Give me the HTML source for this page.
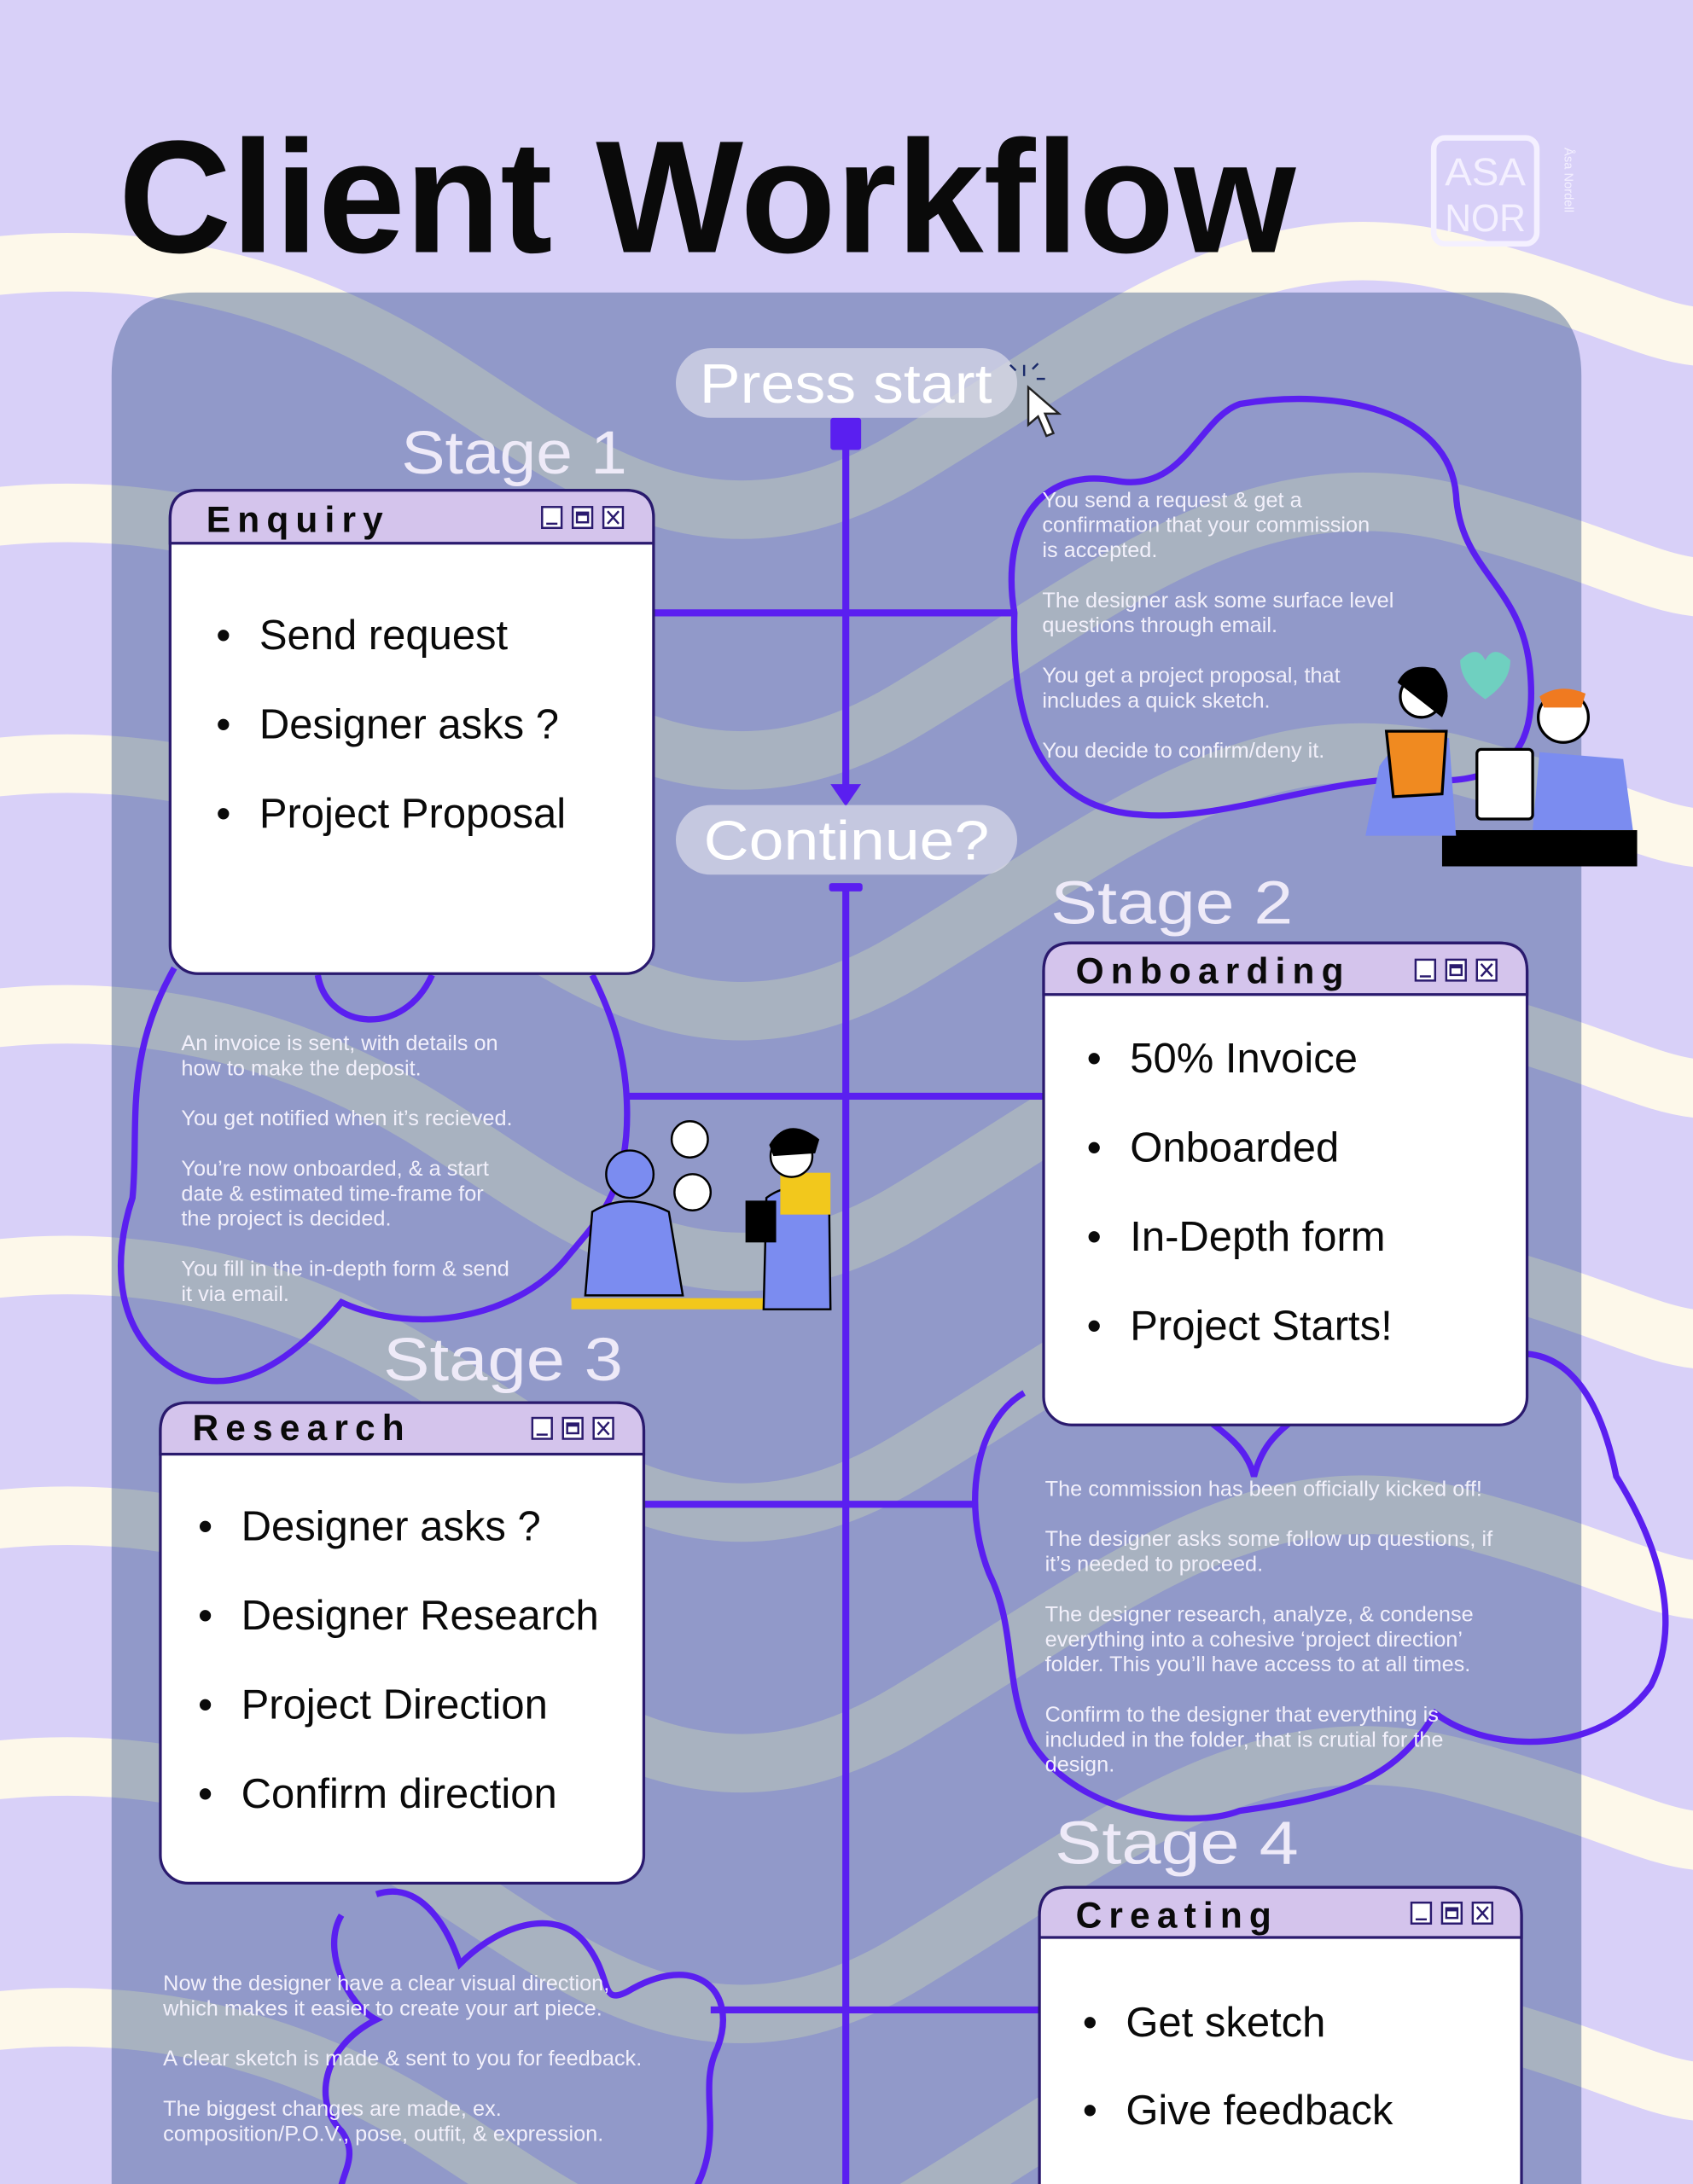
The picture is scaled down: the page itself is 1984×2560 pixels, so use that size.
<!DOCTYPE html>
<html><head><meta charset="utf-8"><style>
html,body{margin:0;padding:0;background:#d8d0f8;width:1984px;height:2560px;overflow:hidden;}
svg{display:block;}
text{font-family:"Liberation Sans",sans-serif;}
</style></head><body>
<svg width="1984" height="2560" viewBox="0 0 1215 1568" xmlns="http://www.w3.org/2000/svg">
<rect width="1215" height="1568" fill="#d8d0f8"/>
<g fill="none" stroke="#fdf8ea" stroke-width="42" stroke-linecap="round">
<path d="M-60,200 C80,170 200,200 300,260 S500,420 650,330 S900,150 1050,190 S1200,260 1290,230"/>
<path d="M-60,380 C80,350 200,380 300,440 S500,600 650,510 S900,330 1050,370 S1200,440 1290,410"/>
<path d="M-60,560 C80,530 200,560 300,620 S500,780 650,690 S900,510 1050,550 S1200,620 1290,590"/>
<path d="M-60,740 C80,710 200,740 300,800 S500,960 650,870 S900,690 1050,730 S1200,800 1290,770"/>
<path d="M-60,920 C80,890 200,920 300,980 S500,1140 650,1050 S900,870 1050,910 S1200,980 1290,950"/>
<path d="M-60,1100 C80,1070 200,1100 300,1160 S500,1320 650,1230 S900,1050 1050,1090 S1200,1160 1290,1130"/>
<path d="M-60,1280 C80,1250 200,1280 300,1340 S500,1500 650,1410 S900,1230 1050,1270 S1200,1340 1290,1310"/>
<path d="M-60,1460 C80,1430 200,1460 300,1520 S500,1680 650,1590 S900,1410 1050,1450 S1200,1520 1290,1490"/>
</g>
<path d="M80,1600 L80,270 Q80,210 140,210 L1075,210 Q1135,210 1135,270 L1135,1600 Z" fill="rgb(29,63,124)" fill-opacity="0.38"/>
<text x="85" y="181" font-size="115" font-weight="bold" fill="#0a0a0a" textLength="845" lengthAdjust="spacingAndGlyphs">Client Workflow</text>
<rect x="1029" y="99" width="74" height="76" rx="8" fill="none" stroke="#f4f0ff" stroke-width="4"/>
<text x="1066" y="133" font-size="28" fill="#f4f0ff" text-anchor="middle" textLength="58" lengthAdjust="spacingAndGlyphs">ASA</text>
<text x="1066" y="166" font-size="28" fill="#f4f0ff" text-anchor="middle" textLength="58" lengthAdjust="spacingAndGlyphs">NOR</text>
<text x="0" y="0" font-size="9" fill="#f4f0ff" transform="translate(1123,106) rotate(90)">Åsa Nordell</text>

<g stroke="#5a1ff0" stroke-width="5" fill="none">
<line x1="607" y1="312" x2="607" y2="566"/>
<line x1="607" y1="637" x2="607" y2="1570"/>
<line x1="469" y1="440" x2="730" y2="440"/>
<line x1="448" y1="787" x2="749" y2="787"/>
<line x1="462" y1="1080" x2="700" y2="1080"/>
<line x1="510" y1="1443" x2="746" y2="1443"/>
</g>
<rect x="596" y="300" width="22" height="23" rx="2" fill="#5a1ff0"/>
<path d="M596,563 L618,563 L607,579 Z" fill="#5a1ff0"/>
<rect x="595" y="634" width="24" height="6" rx="2" fill="#5a1ff0"/>

<g stroke="#5a1ff0" stroke-width="4.5" fill="none">
<path d="M728,440 C718,380 745,335 800,345 C850,355 860,300 890,290 C960,278 1040,295 1045,355 C1048,410 1092,420 1098,480 C1103,530 1090,565 1020,560 C960,555 880,590 820,585 C760,582 725,540 728,440 Z"/>
<path d="M125,695 C88,760 100,810 95,860 C80,905 82,960 128,985 C175,1008 220,965 245,935 C300,960 370,945 405,905 C425,880 450,860 450,800 C450,760 440,730 425,700 M228,700 C235,740 290,745 310,700"/>
<path d="M735,1000 C700,1020 690,1080 710,1130 C730,1170 720,1210 740,1250 C770,1300 850,1315 890,1300 C960,1290 1000,1280 1030,1230 C1070,1260 1150,1260 1185,1210 C1210,1160 1185,1100 1160,1060 C1150,1010 1130,975 1096,972 M870,1022 C880,1030 895,1040 900,1060 C905,1040 915,1030 925,1022"/>
<path d="M245,1375 C230,1400 250,1440 270,1450 C230,1470 225,1510 245,1530 C260,1550 240,1565 245,1580 M270,1360 C300,1350 320,1380 330,1410 C360,1380 400,1370 420,1395 C440,1420 430,1440 450,1430 C500,1400 530,1430 515,1470 C500,1500 520,1530 500,1570"/>
</g>

<rect x="485" y="250" width="245" height="50" rx="25" fill="#dcdcea" fill-opacity="0.7"/>
<text x="502" y="289" font-size="40" fill="#ffffff" textLength="210" lengthAdjust="spacingAndGlyphs">Press start</text>
<rect x="485" y="578" width="245" height="50" rx="25" fill="#dcdcea" fill-opacity="0.7"/>
<text x="505" y="617" font-size="40" fill="#ffffff" textLength="205" lengthAdjust="spacingAndGlyphs">Continue?</text>
<path d="M738,278 L738,305 L745,299 L751,313 L756,311 L750,297 L760,297 Z" fill="#fff" stroke="#222" stroke-width="1.5"/>
<g stroke="#1a2a6a" stroke-width="1.5"><line x1="735" y1="262" x2="735" y2="270"/><line x1="741" y1="265" x2="745" y2="261"/><line x1="744" y1="272" x2="750" y2="272"/><line x1="729" y1="266" x2="725" y2="262"/></g>

<g fill="#eeeaf8" font-size="44">
<text x="288" y="340" textLength="162" lengthAdjust="spacingAndGlyphs">Stage 1</text>
<text x="754" y="663" textLength="174" lengthAdjust="spacingAndGlyphs">Stage 2</text>
<text x="275" y="991" textLength="172" lengthAdjust="spacingAndGlyphs">Stage 3</text>
<text x="757" y="1338" textLength="175" lengthAdjust="spacingAndGlyphs">Stage 4</text>
</g>

<defs>
<g id="icons" fill="#fff" stroke="#2a1a6e" stroke-width="1.5">
<rect x="0" y="0" width="14" height="15"/><line x1="3" y1="12" x2="11" y2="12"/>
<rect x="22" y="0" width="14" height="15"/><rect x="25" y="4" width="8" height="7" fill="none"/><line x1="25" y1="5" x2="33" y2="5" stroke-width="2.5"/>
<rect x="44" y="0" width="14" height="15"/><path d="M47,3 L55,12 M55,3 L47,12" fill="none"/>
</g>
</defs>
<g stroke="#2a1a6e" stroke-width="2">
<rect x="122" y="352" width="347" height="347" rx="20" fill="#fff"/>
<path d="M122,390 L122,372 Q122,352 142,352 L449,352 Q469,352 469,372 L469,390 Z" fill="#d4c4ec"/>
<rect x="749" y="677" width="347" height="346" rx="20" fill="#fff"/>
<path d="M749,714 L749,697 Q749,677 769,677 L1076,677 Q1096,677 1096,697 L1096,714 Z" fill="#d4c4ec"/>
<rect x="115" y="1007" width="347" height="345" rx="20" fill="#fff"/>
<path d="M115,1044 L115,1027 Q115,1007 135,1007 L442,1007 Q462,1007 462,1027 L462,1044 Z" fill="#d4c4ec"/>
<rect x="746" y="1355" width="346" height="300" rx="20" fill="#fff"/>
<path d="M746,1391 L746,1375 Q746,1355 766,1355 L1072,1355 Q1092,1355 1092,1375 L1092,1391 Z" fill="#d4c4ec"/>
</g>
<use href="#icons" x="389" y="364"/>
<use href="#icons" x="1016" y="689"/>
<use href="#icons" x="382" y="1018"/>
<use href="#icons" x="1013" y="1366"/>
<g font-weight="bold" font-size="26" fill="#0a0a0a" letter-spacing="5">
<text x="148" y="382">Enquiry</text>
<text x="772" y="706">Onboarding</text>
<text x="138" y="1034">Research</text>
<text x="772" y="1384">Creating</text>
</g>
<g font-size="30" fill="#0a0a0a">
<text x="155" y="466">•</text><text x="186" y="466">Send request</text>
<text x="155" y="530">•</text><text x="186" y="530">Designer asks ?</text>
<text x="155" y="594">•</text><text x="186" y="594">Project Proposal</text>
<text x="780" y="770">•</text><text x="811" y="770">50% Invoice</text>
<text x="780" y="834">•</text><text x="811" y="834">Onboarded</text>
<text x="780" y="898">•</text><text x="811" y="898">In-Depth form</text>
<text x="780" y="962">•</text><text x="811" y="962">Project Starts!</text>
<text x="142" y="1106">•</text><text x="173" y="1106">Designer asks ?</text>
<text x="142" y="1170">•</text><text x="173" y="1170">Designer Research</text>
<text x="142" y="1234">•</text><text x="173" y="1234">Project Direction</text>
<text x="142" y="1298">•</text><text x="173" y="1298">Confirm direction</text>
<text x="777" y="1462">•</text><text x="808" y="1462">Get sketch</text>
<text x="777" y="1525">•</text><text x="808" y="1525">Give feedback</text>
</g>

<g>
<rect x="1035" y="596" width="140" height="26" fill="#000"/>
<path d="M1105,540 L1165,545 L1172,596 L1100,596 Z" fill="#7b8cf0"/>
<circle cx="1122" cy="515" r="18" fill="#fff" stroke="#000" stroke-width="2"/>
<path d="M1105,500 Q1120,490 1138,498 L1135,508 L1108,508 Z" fill="#f07a20"/>
<rect x="1060" y="538" width="40" height="50" rx="3" fill="#fff" stroke="#000" stroke-width="2"/>
<path d="M980,600 L990,550 Q1010,520 1040,530 L1045,600 Z" fill="#7b8cf0"/>
<path d="M995,525 L1038,525 L1035,570 L1000,572 Z" fill="#f08a20" stroke="#000" stroke-width="2"/>
<circle cx="1020" cy="500" r="15" fill="#fff" stroke="#000" stroke-width="2"/>
<path d="M1003,490 Q1010,475 1030,480 Q1045,495 1035,515 Z" fill="#000"/>
<path d="M1048,474 Q1060,462 1066,474 Q1072,462 1084,474 Q1084,490 1066,502 Q1048,490 1048,474 Z" fill="#6fd0c0"/>
</g>
<g>
<rect x="410" y="932" width="140" height="8" fill="#f2c81c"/>
<path d="M420,930 L425,870 Q450,855 480,870 L490,930 Z" fill="#7b8cf0" stroke="#000" stroke-width="1.5"/>
<circle cx="452" cy="843" r="17" fill="#7b8cf0" stroke="#000" stroke-width="1.5"/>
<path d="M548,940 L550,860 Q570,845 595,860 L596,940 Z" fill="#7b8cf0" stroke="#000" stroke-width="1.5"/>
<rect x="560" y="842" width="36" height="30" fill="#f2c81c"/>
<circle cx="568" cy="830" r="15" fill="#fff" stroke="#000" stroke-width="1.5"/>
<path d="M552,822 Q565,800 588,818 L585,828 L555,830 Z" fill="#000"/>
<rect x="535" y="862" width="22" height="30" fill="#000"/>
<circle cx="495" cy="818" r="13" fill="#fff" stroke="#000" stroke-width="1.5"/>
<circle cx="497" cy="856" r="13" fill="#fff" stroke="#000" stroke-width="1.5"/>
</g>

<g font-size="15.5" fill="#f2f0fb">
<text x="748" y="364">You send a request &amp; get a</text>
<text x="748" y="382">confirmation that your commission</text>
<text x="748" y="400">is accepted.</text>
<text x="748" y="436">The designer ask some surface level</text>
<text x="748" y="454">questions through email.</text>
<text x="748" y="490">You get a project proposal, that</text>
<text x="748" y="508">includes a quick sketch.</text>
<text x="748" y="544">You decide to confirm/deny it.</text>

<text x="130" y="754">An invoice is sent, with details on</text>
<text x="130" y="772">how to make the deposit.</text>
<text x="130" y="808">You get notified when it’s recieved.</text>
<text x="130" y="844">You’re now onboarded, &amp; a start</text>
<text x="130" y="862">date &amp; estimated time-frame for</text>
<text x="130" y="880">the project is decided.</text>
<text x="130" y="916">You fill in the in-depth form &amp; send</text>
<text x="130" y="934">it via email.</text>

<text x="750" y="1074">The commission has been officially kicked off!</text>
<text x="750" y="1110">The designer asks some follow up questions, if</text>
<text x="750" y="1128">it’s needed to proceed.</text>
<text x="750" y="1164">The designer research, analyze, &amp; condense</text>
<text x="750" y="1182">everything into a cohesive ‘project direction’</text>
<text x="750" y="1200">folder. This you’ll have access to at all times.</text>
<text x="750" y="1236">Confirm to the designer that everything is</text>
<text x="750" y="1254">included in the folder, that is crutial for the</text>
<text x="750" y="1272">design.</text>

<text x="117" y="1429">Now the designer have a clear visual direction,</text>
<text x="117" y="1447">which makes it easier to create your art piece.</text>
<text x="117" y="1483">A clear sketch is made &amp; sent to you for feedback.</text>
<text x="117" y="1519">The biggest changes are made, ex.</text>
<text x="117" y="1537">composition/P.O.V., pose, outfit, &amp; expression.</text>
</g>
</svg>
</body></html>
